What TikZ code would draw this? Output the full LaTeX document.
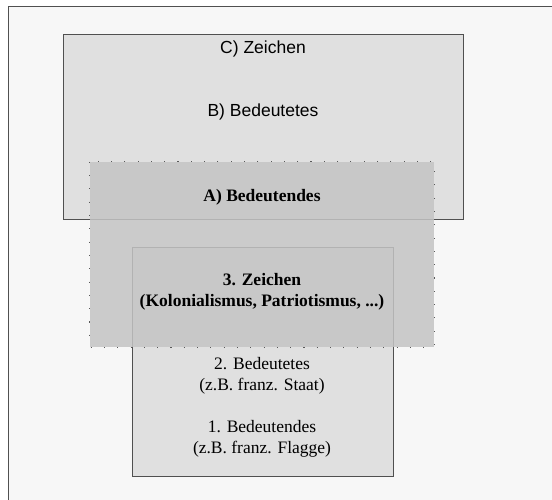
\documentclass[tikz,border=0pt]{standalone}
\usepackage{fontspec}
\setmainfont{Liberation Serif}
\setsansfont{Liberation Sans}
\definecolor{bgc}{HTML}{F7F7F7}
\definecolor{boxc}{HTML}{E0E0E0}
\definecolor{ac}{HTML}{C4C4C4}
\definecolor{edgec}{HTML}{505050}
\begin{document}
\begin{tikzpicture}[x=1pt,y=-1pt,
  box/.style={draw=edgec, line width=0.9pt, fill=boxc, inner sep=0pt},
  overlay box/.style={fill=ac, fill opacity=0.85, inner sep=0pt},
  dotedge/.style={draw=black!65, line width=1.1pt, dash pattern=on 1.1pt off 12.2pt},
  sanslbl/.style={font=\sffamily\fontsize{17.5}{21}\selectfont, inner sep=0pt},
  seriflbl/.style={font=\rmfamily\fontsize{17.5}{21}\selectfont, align=center, inner sep=0pt},
  boldlbl/.style={font=\rmfamily\bfseries\fontsize{17.5}{21}\selectfont, align=center, inner sep=0pt}
]
\useasboundingbox (0,0) rectangle (552,500);
\fill[white] (0,0) rectangle (552,500);
\fill[bgc] (8,6) rectangle (552,500);
\draw[edgec, line width=0.9pt] (552,6) -- (8,6) -- (8,500);
% C / B box
\node[box, minimum width=400pt, minimum height=185pt] (C) at (263,126.5) {};
% inner box (1./2./3.)
\node[box, minimum width=261pt, minimum height=229pt] (N) at (262.5,361.5) {};
% A overlay
\node[overlay box, minimum width=344pt, minimum height=185pt] (A) at (262,254.5) {};
\draw[dotedge] (A.north west) rectangle (A.south east);
% labels
\node[sanslbl] (lc) at (263,49) {C) Zeichen};
\node[sanslbl] (lb) at (263,112) {B) Bedeutetes};
\node[boldlbl] (la) at (262,197) {A) Bedeutendes};
\node[boldlbl] (l3) at (262,291.5) {3. Zeichen\\(Kolonialismus, Patriotismus, ...)};
\node[seriflbl] (l2) at (262,376) {2. Bedeutetes\\(z.B. franz. Staat)};
\node[seriflbl] (l1) at (262,439) {1. Bedeutendes\\(z.B. franz. Flagge)};
\end{tikzpicture}
\end{document}
